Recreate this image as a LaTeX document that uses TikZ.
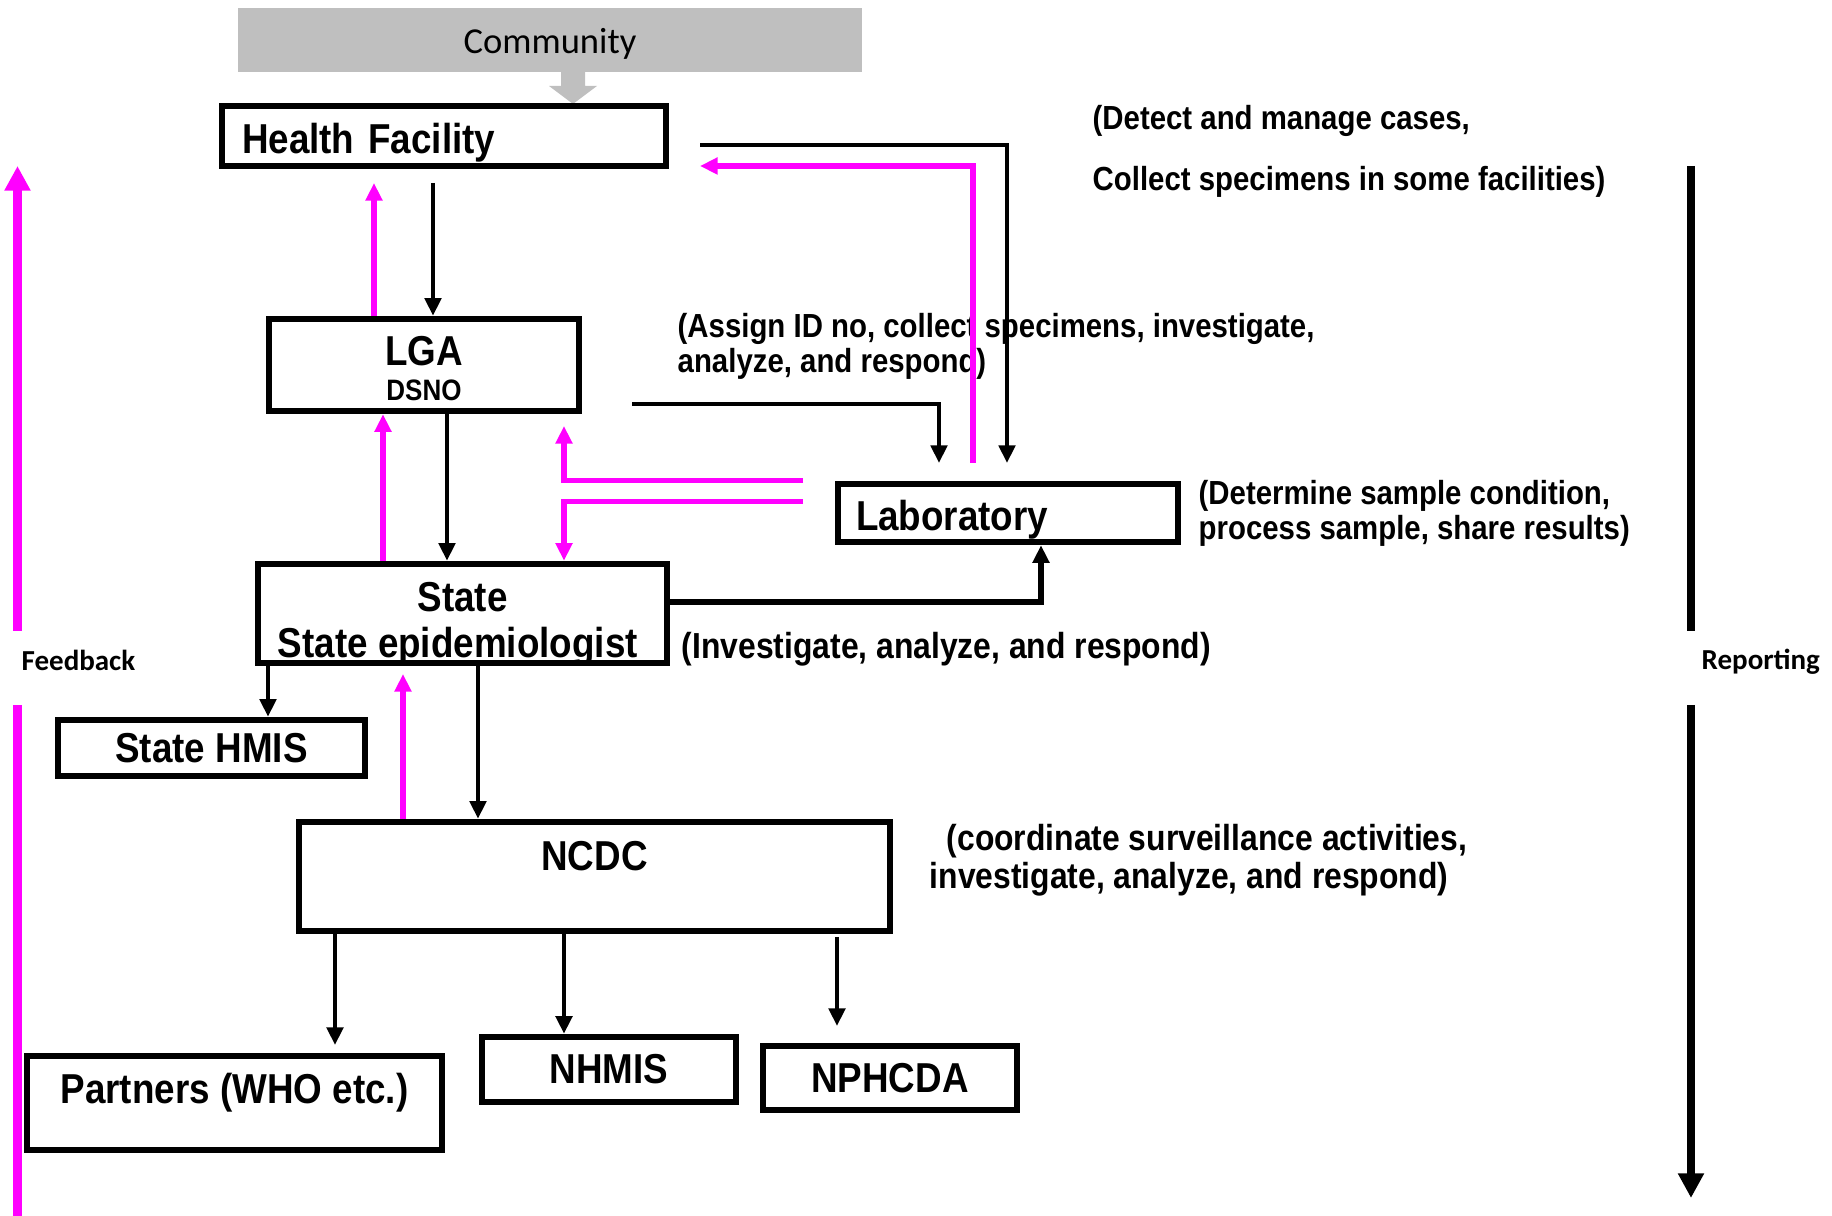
\documentclass[tikz,border=0pt]{standalone}
\usepackage{fontspec}
\usetikzlibrary{arrows.meta,calc}
\newfontfamily\arialn{Liberation Sans}[FakeStretch=0.88]
\newfontfamily\calib{Carlito}
\definecolor{commgray}{HTML}{BFBFBF}
\definecolor{fbmag}{HTML}{FF00FF}

\tikzset{
  box/.style={draw, line width=1.7pt, inner sep=0pt, align=center,
    font=\arialn\bfseries\fontsize{11.9}{14}\selectfont},
  note/.style={anchor=west, inner sep=0pt, align=left,
    font=\arialn\bfseries\fontsize{9.5}{10}\selectfont},
  flow/.style={line width=1.2pt, -{Triangle[length=5pt,width=4.6pt]}},
  back/.style={flow, color=fbmag, line width=1.5pt},
  side/.style={line width=2.4pt},
  sidetip/.style={-{Triangle[length=7pt,width=7pt]}},
  sidelabel/.style={anchor=west, inner sep=0pt,
    font=\calib\bfseries\fontsize{8.25}{10}\selectfont},
}

\begin{document}
\begin{tikzpicture}
	%%%%% START %%%%%
	\useasboundingbox (0,0) rectangle (18.32,-12.16);

	% community and block arrow
	\node[fill=commgray, minimum width=6.24cm, inner sep=0pt, text height=0.46cm, text depth=0.18cm,
	  font=\calib\fontsize{10.4}{12}\selectfont] (comm) at (5.50,-0.40) {Community};
	\fill[commgray] (5.61,-0.70) -- (5.85,-0.70) -- (5.85,-0.86) -- (5.97,-0.86)
	  -- (5.73,-1.04) -- (5.49,-0.86) -- (5.61,-0.86) -- cycle;

	% boxes
	\node[box, minimum width=4.445cm, text height=0.4825cm, text depth=0.1225cm, text width=4.04cm,
	  inner xsep=0.2025cm, align=left] (hf) at (4.44,-1.36) {Health Facility};
	\node[box, minimum width=3.105cm, minimum height=0.925cm] (lga) at (4.24,-3.65)
	  {\rule{0pt}{10.4pt}LGA\\[-4.1pt]{\fontsize{8.4}{10}\selectfont DSNO}};
	\node[box, minimum width=3.405cm, text height=0.4725cm, text depth=0.1125cm, text width=3.04cm,
	  inner xsep=0.1825cm, align=left] (lab) at (10.08,-5.13) {Laboratory};
	\node[box, minimum width=4.095cm, text height=0.9385cm, text depth=0.0565cm] (state) at (4.625,-6.135)
	  {State\\[-0.9pt]State epidemiologist\hspace*{0.094cm}};
	\node[box, minimum width=3.075cm, minimum height=0.565cm] (shmis) at (2.115,-7.48) {State HMIS};
	\node[box, minimum width=5.915cm, text height=0.4925cm, text depth=0.6025cm] (ncdc) at (5.945,-8.765) {NCDC};
	\node[box, minimum width=4.155cm, text height=0.4825cm, text depth=0.4625cm] (partners) at (2.345,-11.03)
	  {Partners (WHO etc.)};
	\node[box, minimum width=2.545cm, minimum height=0.655cm] (nhmis) at (6.09,-10.695) {NHMIS};
	\node[box, minimum width=2.545cm, minimum height=0.645cm] (nphcda) at (8.90,-10.78) {NPHCDA};

	% notes
	\node[note] (hfnote) at (10.92,-1.51)
	  {(Detect and manage cases,\\[7.35pt]Collect specimens in some facilities)};
	\node[note] (lganote) at (6.77,-3.46)
	  {(Assign ID no, collect specimens, investigate,\\analyze, and respond)};
	\node[note] (labnote) at (11.98,-5.13)
	  {(Determine sample condition,\\process sample, share results)};
	\node[note, font=\arialn\bfseries\fontsize{10.3}{10.8}\selectfont] (statenote) at (6.81,-6.495)
	  {(Investigate, analyze, and respond)};
	\node[note, font=\arialn\bfseries\fontsize{10.3}{10.8}\selectfont] (ncdcnote) at (9.29,-8.605)
	  {\hspace*{0.17cm}(coordinate surveillance activities,\\investigate, analyze, and respond)};

	% free ends
	\coordinate (hfout) at (4.33,-1.83);
	\coordinate (hfin) at (3.74,-1.83);
	\coordinate (lgaout) at (4.47,-4.12);
	\coordinate (stup) at (3.83,-5.63);
	\coordinate (lgafb) at (5.64,-4.26);
	\coordinate (lgalab) at (6.32,-4.04);
	\coordinate (labin1) at (9.39,-4.63);
	\coordinate (hflab) at (7.00,-1.45);
	\coordinate (labin2) at (10.07,-4.63);
	\coordinate (labup) at (9.73,-4.63);
	\coordinate (hfback) at (7.00,-1.66);
	\coordinate (labx) at (10.41,-5.43);
	\coordinate (shx) at (2.68,-6.64);
	\coordinate (ncx) at (4.78,-6.64);
	\coordinate (ncup) at (4.03,-6.74);
	\coordinate (ptx) at (3.35,-10.45);
	\coordinate (nhx) at (5.64,-9.32);
	\coordinate (npa) at (8.37,-9.37);
	\coordinate (npb) at (8.37,-10.26);

	% reporting
	\draw[flow] (hfout) -- (hfout |- lga.north);
	\draw[flow] (lgaout |- lga.south) -- (lgaout |- state.north);
	\draw[flow] (lgalab) -| (labin1);
	\draw[flow] (hflab) -| (labin2);
	\draw[flow, line width=1.6pt] ([yshift=0.115cm]state.east) -| (labx |- lab.south);
	\draw[flow] (shx |- state.south) -- (shx |- shmis.north);
	\draw[flow] (ncx |- state.south) -- (ncx |- ncdc.north);
	\draw[flow, line width=1.3pt] (ptx |- ncdc.south) -- (ptx);
	\draw[flow, line width=1.3pt] (nhx |- ncdc.south) -- (nhx |- nhmis.north);
	\draw[flow, line width=1.3pt] (npa) -- (npb);

	% feedback
	\draw[back] (hfin |- lga.north) -- (hfin);
	\draw[back] (stup |- state.north) -- (stup |- lga.south);
	\draw[back] ([xshift=-0.317cm]lab.north west) -| (lgafb);
	\draw[back] ([xshift=-0.317cm,yshift=-0.21cm]lab.north west) -| (lgafb |- state.north);
	\draw[back] (labup) |- (hfback);
	\draw[back] (ncup |- ncdc.north) -- (ncup);

	% side bars
	\node[sidelabel] (fb) at (0.21,-6.60) {Feedback};
	\node[sidelabel] (rep) at (17.01,-6.62) {Reporting};
	\draw[side, fbmag] (0.175,-12.16) -- (0.175,-7.05);
	\draw[side, fbmag, sidetip] (0.175,-6.31) -- (0.175,-1.66);
	\draw[side] (16.91,-1.66) -- (16.91,-6.31);
	\draw[side, sidetip] (16.91,-7.05) -- (16.91,-11.98);
	%%%%% END %%%%%
\end{tikzpicture}
\end{document}
